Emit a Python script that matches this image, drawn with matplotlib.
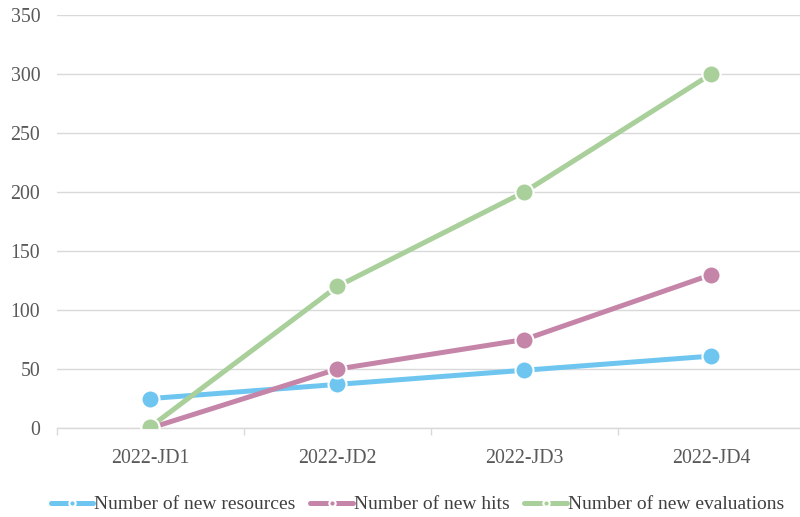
import matplotlib.pyplot as plt
import numpy as np

quarters = ['2022-JD1', '2022-JD2', '2022-JD3', '2022-JD4']
new_resources = [25, 37, 49, 61]
new_hits = [0, 50, 75, 130]
new_evaluations = [1, 120, 200, 300]

plt.rcParams['font.family'] = ['Liberation Serif', 'DejaVu Serif']

fig = plt.figure(figsize=(8, 5.17), dpi=100)
ax = fig.add_axes([0.071, 0.172, 0.935, 0.799])

x = np.arange(len(quarters))
series = [
    (new_resources, 'Number of new resources', '#6ec6f0'),
    (new_hits, 'Number of new hits', '#c585a8'),
    (new_evaluations, 'Number of new evaluations', '#a9cf9a'),
]
for vals, label, color in series:
    ax.plot(x, vals, color=color, lw=3.6, marker='o', ms=13,
            markeredgecolor='white', markeredgewidth=1.5, label=label,
            solid_capstyle='round', zorder=3)

ax.set_xlim(-0.5, 3.5)
ax.set_ylim(0, 350)
ax.set_yticks(range(0, 351, 50))
ax.set_xticks(x)
ax.set_xticklabels(quarters)
ax.set_xticks([-0.5, 0.5, 1.5, 2.5, 3.5], minor=True)

ax.grid(axis='y', color='#d9d9d9', lw=1)
ax.set_axisbelow(True)
for s in ['top', 'right', 'left']:
    ax.spines[s].set_visible(False)
ax.spines['bottom'].set_color('#d9d9d9')
ax.spines['bottom'].set_linewidth(1)

ax.tick_params(axis='y', length=0, pad=12, labelsize=14.3, labelcolor='#595959')
ax.tick_params(axis='x', which='major', length=0, pad=15, labelsize=14.3, labelcolor='#595959')
ax.tick_params(axis='x', which='minor', length=5, color='#d9d9d9', width=1)

leg = fig.legend(loc='lower center', bbox_to_anchor=(0.522, -0.027), ncol=3, frameon=False,
                 fontsize=14, handlelength=2.2, handletextpad=0.05, columnspacing=0.75,
                 markerscale=0.35)
for t in leg.get_texts():
    t.set_color('#404040')

fig.savefig('out.png', dpi=100)
